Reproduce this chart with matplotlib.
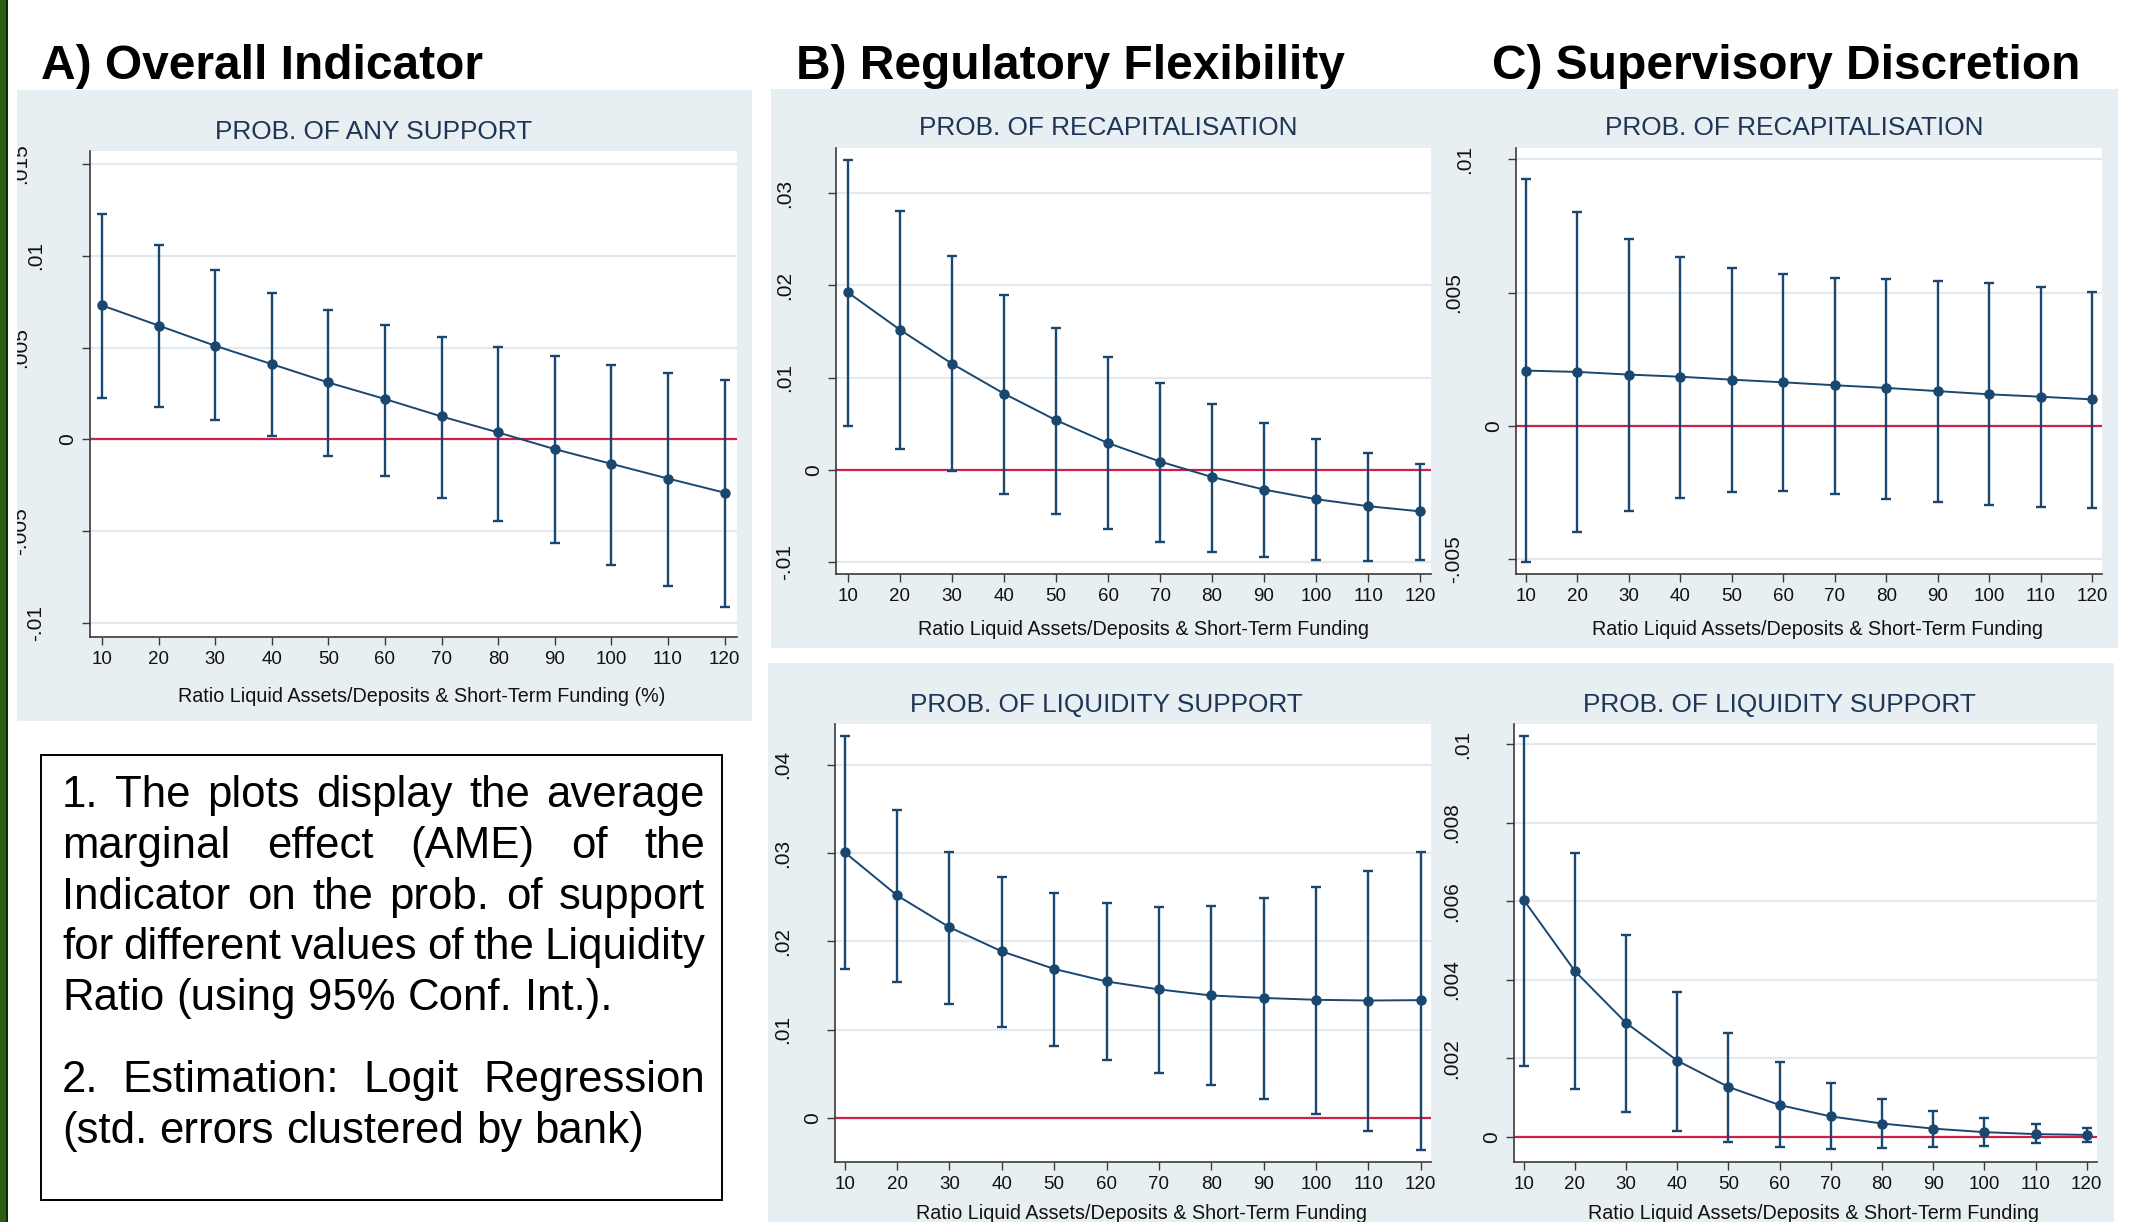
import numpy as np
import matplotlib
matplotlib.use("Agg")
import matplotlib.pyplot as plt
from matplotlib import font_manager as fm
from matplotlib import transforms
from matplotlib.patches import Rectangle

# ---- data ----
ratio = [10, 20, 30, 40, 50, 60, 70, 80, 90, 100, 110, 120]

# A) overall indicator, prob. of any support
any_mean = [0.0073, 0.0062, 0.0051, 0.0041, 0.0031, 0.0022, 0.00125, 0.00038, -0.00053, -0.00133, -0.00213, -0.0029]
any_hi = [0.01225, 0.0106, 0.0092, 0.0080, 0.00705, 0.00625, 0.0056, 0.00505, 0.00455, 0.00405, 0.00363, 0.00323]
any_lo = [0.00225, 0.00175, 0.00105, 0.00018, -0.00088, -0.0020, -0.00318, -0.00443, -0.00563, -0.00683, -0.00798, -0.0091]

# B) regulatory flexibility, recapitalisation
reg_rec_mean = [0.01924, 0.0152, 0.01152, 0.00828, 0.0054, 0.00292, 0.00092, -0.00076, -0.00212, -0.00316, -0.00392, -0.00448]
reg_rec_hi = [0.03356, 0.02808, 0.0232, 0.019, 0.01536, 0.01224, 0.00948, 0.00712, 0.00508, 0.00332, 0.00184, 0.00068]
reg_rec_lo = [0.00472, 0.00228, -0.00016, -0.0026, -0.00472, -0.00644, -0.00784, -0.00884, -0.00944, -0.00972, -0.00984, -0.0098]

# B) regulatory flexibility, liquidity support
reg_liq_mean = [0.03008, 0.0252, 0.02159, 0.01886, 0.01687, 0.01545, 0.01455, 0.01386, 0.01358, 0.01337, 0.01329, 0.01333]
reg_liq_hi = [0.04329, 0.03488, 0.03008, 0.02728, 0.02545, 0.02431, 0.02386, 0.02398, 0.02488, 0.02614, 0.02797, 0.03016]
reg_liq_lo = [0.01687, 0.01537, 0.01285, 0.01028, 0.00813, 0.0065, 0.00512, 0.00366, 0.00215, 0.00041, -0.0015, -0.00362]

# C) supervisory discretion, recapitalisation
sup_rec_mean = [0.00208, 0.00203, 0.00193, 0.00185, 0.00174, 0.00164, 0.00153, 0.00143, 0.00131, 0.00119, 0.0011, 0.001]
sup_rec_hi = [0.00928, 0.00803, 0.00703, 0.00633, 0.00592, 0.00571, 0.00557, 0.00553, 0.00544, 0.00536, 0.00521, 0.00503]
sup_rec_lo = [-0.0051, -0.00399, -0.00319, -0.00271, -0.00247, -0.00244, -0.00256, -0.00272, -0.00285, -0.00297, -0.00304, -0.00307]

# C) supervisory discretion, liquidity support
sup_liq_mean = [0.00603, 0.00422, 0.0029, 0.00194, 0.00127, 0.00081, 0.00052, 0.00034, 0.00021, 0.00012, 0.00007, 0.00005]
sup_liq_hi = [0.0102, 0.00723, 0.00513, 0.00368, 0.00265, 0.00191, 0.00136, 0.00097, 0.00066, 0.00047, 0.00032, 0.00022]
sup_liq_lo = [0.00181, 0.00121, 0.00063, 0.00016, -0.00013, -0.00027, -0.00032, -0.00029, -0.00026, -0.00022, -0.00016, -0.00013]

any_yticks = [-0.01, -0.005, 0, 0.005, 0.01, 0.015]
any_ylabels = ["-.01", "-.005", "0", ".005", ".01", ".015"]
reg_rec_yticks = [-0.01, 0, 0.01, 0.02, 0.03]
reg_rec_ylabels = ["-.01", "0", ".01", ".02", ".03"]
reg_liq_yticks = [0, 0.01, 0.02, 0.03, 0.04]
reg_liq_ylabels = ["0", ".01", ".02", ".03", ".04"]
sup_rec_yticks = [-0.005, 0, 0.005, 0.01]
sup_rec_ylabels = ["-.005", "0", ".005", ".01"]
sup_liq_yticks = [0, 0.002, 0.004, 0.006, 0.008, 0.01]
sup_liq_ylabels = ["0", ".002", ".004", ".006", ".008", ".01"]

titles = ["A) Overall Indicator", "B) Regulatory Flexibility", "C) Supervisory Discretion"]
xlab = "Ratio Liquid Assets/Deposits & Short-Term Funding"
note1 = ["1. The plots display the average",
         "marginal effect (AME) of the",
         "Indicator on the prob. of support",
         "for different values of the Liquidity",
         "Ratio (using 95% Conf. Int.)."]
note2 = ["2. Estimation: Logit Regression",
         "(std. errors clustered by bank)"]

# ---- style ----
NAVY = "#1a476f"
RED = "#d0204a"
BG = "#e8eff2"
GRID = "#e2eaee"
AXC = "#3a3a3a"
SUB = "#1f3556"

W, H = 2133, 1222
fig = plt.figure(figsize=(W / 100, H / 100), dpi=100)

fonts = {f.name for f in fm.fontManager.ttflist}
REG = "Liberation Sans" if "Liberation Sans" in fonts else "DejaVu Sans"
NAR, nscale = REG, 0.9
for cand in ("Liberation Sans Narrow", "Arial Narrow"):
    if cand in fonts:
        NAR, nscale = cand, 1.0
        break


def fy(py):
    return 1 - py / H


def rect_px(x0, y0, x1, y1, **kw):
    r = Rectangle((x0 / W, 1 - y1 / H), (x1 - x0) / W, (y1 - y0) / H,
                  transform=fig.transFigure, **kw)
    fig.add_artist(r)
    return r


# slide pieces
rect_px(0, 0, 6, H, facecolor="#2b5e10", edgecolor="none", zorder=-2)
rect_px(6, 0, 7.5, H, facecolor="#0f2a06", edgecolor="none", zorder=-2)
bgA = rect_px(17, 90, 752, 721, facecolor=BG, edgecolor="none", zorder=-1)
bgTop = rect_px(771, 89, 2118, 648, facecolor=BG, edgecolor="none", zorder=-1)
bgBot = rect_px(768, 663, 2114, H, facecolor=BG, edgecolor="none", zorder=-1)


def panel(box, bg, xlim, ylim, yticks, ylabels, mean, lo, hi, shift):
    x0, y0, x1, y1 = box
    ax = fig.add_axes([x0 / W, 1 - y1 / H, (x1 - x0) / W, (y1 - y0) / H])
    ax.set_facecolor("white")
    ax.set_xlim(xlim)
    ax.set_ylim(ylim)
    ax.set_xticks(ratio)
    ax.set_yticks(yticks)
    ax.tick_params(axis="y", labelleft=False, length=5.8, width=1, color=AXC)
    ax.tick_params(axis="x", length=5.8, width=1, color=AXC, pad=4.5,
                   labelsize=15 * nscale, labelcolor="#111111")
    for t in ax.get_xticklabels():
        t.set_fontfamily(NAR)
    for s in ("top", "right"):
        ax.spines[s].set_visible(False)
    for s in ("left", "bottom"):
        ax.spines[s].set_color(AXC)
        ax.spines[s].set_linewidth(1.2)
    ax.grid(axis="y", color=GRID, lw=1.6)
    ax.set_axisbelow(True)
    ax.axhline(0, color=RED, lw=1.6, zorder=2)

    mean, lo, hi = np.asarray(mean), np.asarray(lo), np.asarray(hi)
    ax.errorbar(ratio, mean, yerr=[mean - lo, hi - mean], fmt="none", ecolor=NAVY,
                elinewidth=1.7, capsize=3.5, capthick=1.7, zorder=3)
    ax.plot(ratio, mean, "-o", color=NAVY, lw=1.4, ms=6.5, zorder=4)

    # stata-like rotated y labels
    base = transforms.blended_transform_factory(ax.transAxes, ax.transData)
    a, b = shift
    for v, lab in zip(yticks, ylabels):
        n = len(lab.lstrip("-"))
        d = 22 + (0 if n == 1 else a + b * (n - 3))
        tr = transforms.offset_copy(base, fig=fig, x=-d, units="dots")
        t = ax.text(0, v, lab, transform=tr, rotation=90, ha="center", va="center",
                    fontsize=15, family=REG, color="#111111")
        t.set_clip_path(bg)
        t.set_clip_on(True)
    return ax


panel((90, 150.6, 737, 636.8), bgA, (7.88, 122.2), (-0.01075, 0.01573),
      any_yticks, any_ylabels, any_mean, any_lo, any_hi, (32, 15))
panel((836, 148, 1431, 574), bgTop, (7.7, 122.1), (-0.01127, 0.0349),
      reg_rec_yticks, reg_rec_ylabels, reg_rec_mean, reg_rec_lo, reg_rec_hi, (29.5, 10.5))
panel((1516, 148, 2102, 574), bgTop, (8.06, 121.9), (-0.00555, 0.01043),
      sup_rec_yticks, sup_rec_ylabels, sup_rec_mean, sup_rec_lo, sup_rec_hi, (29.5, 10.5))
panel((834.5, 724, 1431, 1162), bgBot, (8.03, 122), (-0.00502, 0.04464),
      reg_liq_yticks, reg_liq_ylabels, reg_liq_mean, reg_liq_lo, reg_liq_hi, (29.5, 10.5))
panel((1514, 724, 2097, 1162), bgBot, (8.1, 122), (-0.00064, 0.01051),
      sup_liq_yticks, sup_liq_ylabels, sup_liq_mean, sup_liq_lo, sup_liq_hi, (29.5, 10.5))

# panel headings
for x, s in zip([41, 796, 1492], titles):
    fig.text(x / W, fy(79), s, ha="left", va="baseline", fontsize=34.5,
             weight="bold", family=REG, color="black")

subs = [(374, 139, "PROB. OF ANY SUPPORT"),
        (1108, 135, "PROB. OF RECAPITALISATION"),
        (1794, 135, "PROB. OF RECAPITALISATION"),
        (1106, 712, "PROB. OF LIQUIDITY SUPPORT"),
        (1779, 712, "PROB. OF LIQUIDITY SUPPORT")]
for x, y, s in subs:
    fig.text(x / W, fy(y), s, ha="center", va="baseline", fontsize=21 * nscale,
             family=NAR, color=SUB)

xlabs = [(422, 702, xlab + " (%)"), (1143, 635, xlab), (1817, 635, xlab),
         (1141, 1219, xlab), (1813, 1219, xlab)]
for x, y, s in xlabs:
    fig.text(x / W, fy(y), s, ha="center", va="baseline", fontsize=15.8 * nscale,
             family=NAR, color="#111111")

# note box
rect_px(41, 755, 722, 1200, facecolor="white", edgecolor="black", lw=1.4, zorder=1)
renderer = fig.canvas.get_renderer()
NFS = 31.5


def justified(lines, x0, x1, y_first, dy):
    space = 0.278 * NFS * 100 / 72
    for i, line in enumerate(lines):
        y = y_first + i * dy
        words = line.split()
        texts = [fig.text(0, fy(y), w, fontsize=NFS, family=REG, va="baseline",
                          ha="left", color="black") for w in words]
        widths = [t.get_window_extent(renderer).width for t in texts]
        if i == len(lines) - 1:
            gap = space
        else:
            gap = (x1 - x0 - sum(widths)) / (len(words) - 1)
        x = x0
        for t, w in zip(texts, widths):
            t.set_x(x / W)
            x += w + gap


justified(note1, 62, 705, 807, 50.8)
justified(note2, 62, 705, 1092, 51)

fig.savefig("out.png", dpi=100)
